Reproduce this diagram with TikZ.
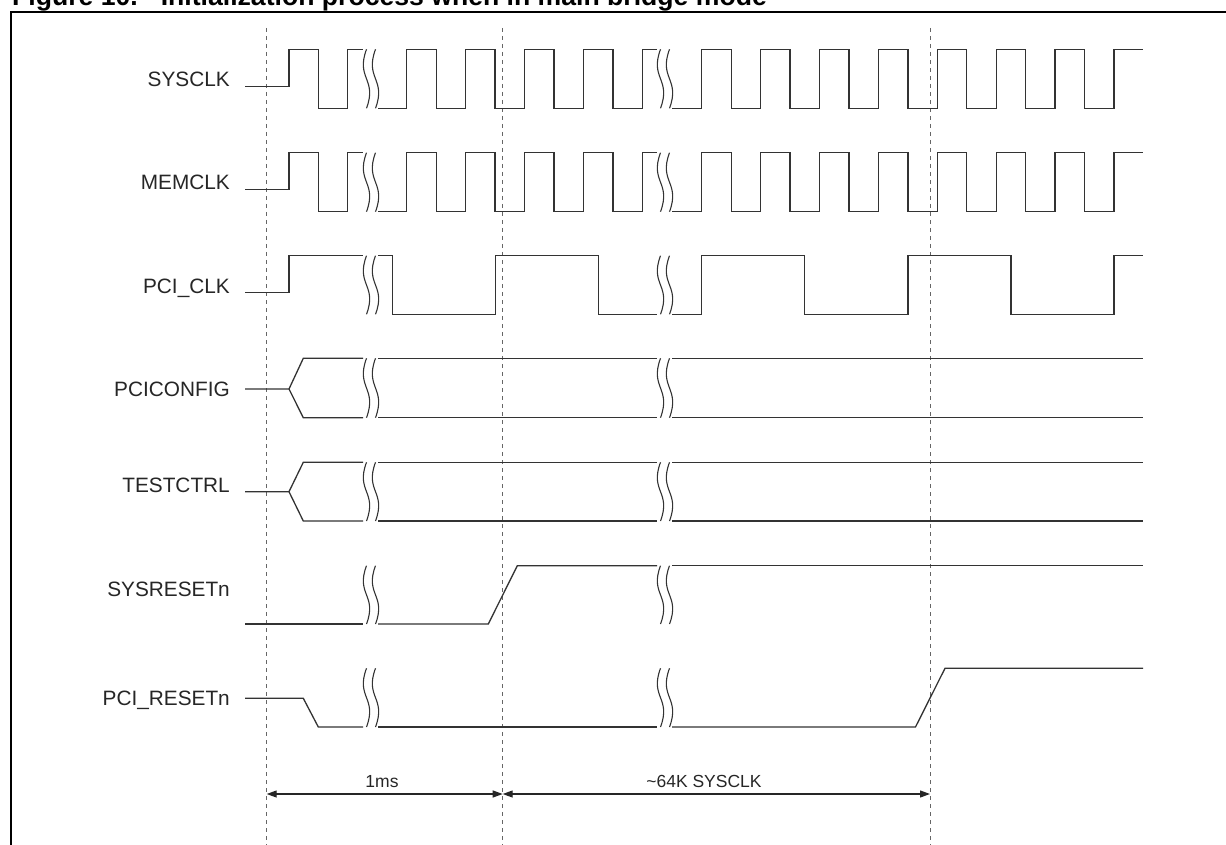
\documentclass[tikz,border=0pt]{standalone}
\usepackage{fontspec}
\setmainfont{Liberation Sans}
\usetikzlibrary{arrows.meta}
% clock waveform: #1 high y, #2 low y, #3 initial y
\newcommand{\clkwave}[3]{%
  \draw[sig] (245,#3) -| (289,#1) -| (318.3,#2) -| (347.7,#1) -- (363,#1);
  \draw[sig] (378,#2) -| (406.7,#1) -| (436.15,#2) -| (465.6,#1) -| (495.05,#2)
     -| (524.5,#1) -| (553.95,#2) -| (583.4,#1) -| (612.85,#2) -| (642.3,#1) -- (657,#1);
  \draw[sig] (672,#2) -| (701.7,#1) -| (731.15,#2) -| (760.6,#1) -| (790.05,#2)
     -| (819.5,#1) -| (848.95,#2) -| (878.4,#1) -| (907.85,#2) -| (937.3,#1)
     -| (966.75,#2) -| (996.2,#1) -| (1025.65,#2) -| (1055.1,#1) -| (1084.55,#2)
     -| (1114,#1) -- (1143,#1);
}
% bus waveform: #1 mid y, #2 high y, #3 low y
\newcommand{\buswave}[3]{%
  \draw[sig] (245,#1) -- (289,#1) -- (303.3,#2) -- (363,#2);
  \draw[sig] (289,#1) -- (303.3,#3) -- (363,#3);
  \draw[sig] (378,#2) -- (657,#2);
  \draw[sig] (378,#3) -- (657,#3);
  \draw[sig] (672,#2) -- (1143,#2);
  \draw[sig] (672,#3) -- (1143,#3);
}
% break mark: #1 centre x, #2 top y, #3 bottom y
\newcommand{\wbreak}[3]{%
  \foreach \dx in {-4.5,4.5}{%
    \draw[brk] ({#1+\dx},#2) .. controls ({#1+\dx-11},{(#2+#3)/2}) and ({#1+\dx+11},{(#2+#3)/2}) .. ({#1+\dx},#3);
  }%
}
\newcommand{\bothbreaks}[2]{\wbreak{371}{#1}{#2}\wbreak{665}{#1}{#2}}
\begin{document}
\begin{tikzpicture}[x=1pt,y=-1pt,
  sig/.style={line width=1.3pt, draw=black!80, line join=miter},
  brk/.style={line width=1.1pt, draw=black!80},
  guide/.style={line width=1pt, draw=black!60, dash pattern=on 4pt off 4pt},
  lbl/.style={anchor=base east, inner sep=0pt, font=\fontsize{20.8}{22}\selectfont, text=black!85},
  dim/.style={line width=1.2pt, draw=black!85, {Triangle[length=10pt,width=7pt]}-{Triangle[length=10pt,width=7pt]}},
  dimlbl/.style={anchor=base, inner sep=0pt, font=\fontsize{17.5}{19}\selectfont, text=black!85},
  ttl/.style={inner sep=0pt, font=\bfseries\fontsize{26.6}{28}\selectfont}]
\useasboundingbox (0,0) rectangle (1226,845);

% title (cut at the top of the page, as in the reference) and frame
\node[ttl, anchor=base west] (fignum) at (12,5.5) {Figure 10.};
\node[ttl, anchor=base east] (title) at (767,5.5) {Initialization process when in main bridge mode};
\draw[line width=1.7pt] (11,850) -- (11,12.3) -- (1232,12.3);

% guide lines
\coordinate (ga) at (266.7,28); \coordinate (gae) at (266.7,845);
\coordinate (gb) at (502.7,28); \coordinate (gbe) at (502.7,845);
\coordinate (gc) at (930,28);   \coordinate (gce) at (930,845);
\draw[guide] (ga) -- (gae);
\draw[guide] (gb) -- (gbe);
\draw[guide] (gc) -- (gce);

% labels
\node[lbl] (sysclk) at (230,86.7) {SYSCLK};
\node[lbl] (memclk) at (230,190) {MEMCLK};
\node[lbl] (pciclk) at (230,293) {PCI\_CLK};
\node[lbl] (pcicfg) at (230,396) {PCICONFIG};
\node[lbl] (testctrl) at (230,492.7) {TESTCTRL};
\node[lbl] (sysrst) at (230,596) {SYSRESETn};
\node[lbl] (pcirst) at (230,705) {PCI\_RESETn};

% SYSCLK and MEMCLK
\clkwave{49.3}{108.3}{86.5}
\bothbreaks{49.3}{108.3}
\clkwave{152.7}{211.7}{189.5}
\bothbreaks{152.7}{211.7}

% PCI_CLK
\draw[sig] (245,292.3) -| (289,255.7) -- (363,255.7);
\draw[sig] (378,255.7) -| (392.3,314.3) -| (495.3,255.7) -| (598.3,314.3) -- (657,314.3);
\draw[sig] (672,314.3) -| (701.7,255.7) -| (804.8,314.3) -| (907.9,255.7) -| (1011,314.3) -| (1114,255.7) -- (1143,255.7);
\bothbreaks{255.7}{314.3}

% PCICONFIG and TESTCTRL
\buswave{389}{358.3}{417.7}
\bothbreaks{358.3}{417.7}
\buswave{491.7}{462.3}{521}
\bothbreaks{462.3}{521}

% SYSRESETn
\draw[sig] (245,624) -- (363,624);
\draw[sig] (378,624) -- (488.3,624) -- (517.3,565.7) -- (657,565.7);
\draw[sig] (672,565.7) -- (1143,565.7);
\bothbreaks{565.7}{624}

% PCI_RESETn
\draw[sig] (245,698.3) -- (303.3,698.3) -- (318.3,727) -- (363,727);
\draw[sig] (378,727) -- (657,727);
\draw[sig] (672,727) -- (915.5,727) -- (945,668.3) -- (1143,668.3);
\bothbreaks{668.3}{727}

% timing dimensions
\coordinate (da) at (266.7,794);
\coordinate (db) at (502.7,794);
\coordinate (dc) at (930,794);
\draw[dim] (da) -- (db);
\draw[dim] (db) -- (dc);
\node[dimlbl] (t1ms) at (382,787) {1ms};
\node[dimlbl] (t64k) at (704,787) {\textasciitilde 64K SYSCLK};
\end{tikzpicture}
\end{document}
